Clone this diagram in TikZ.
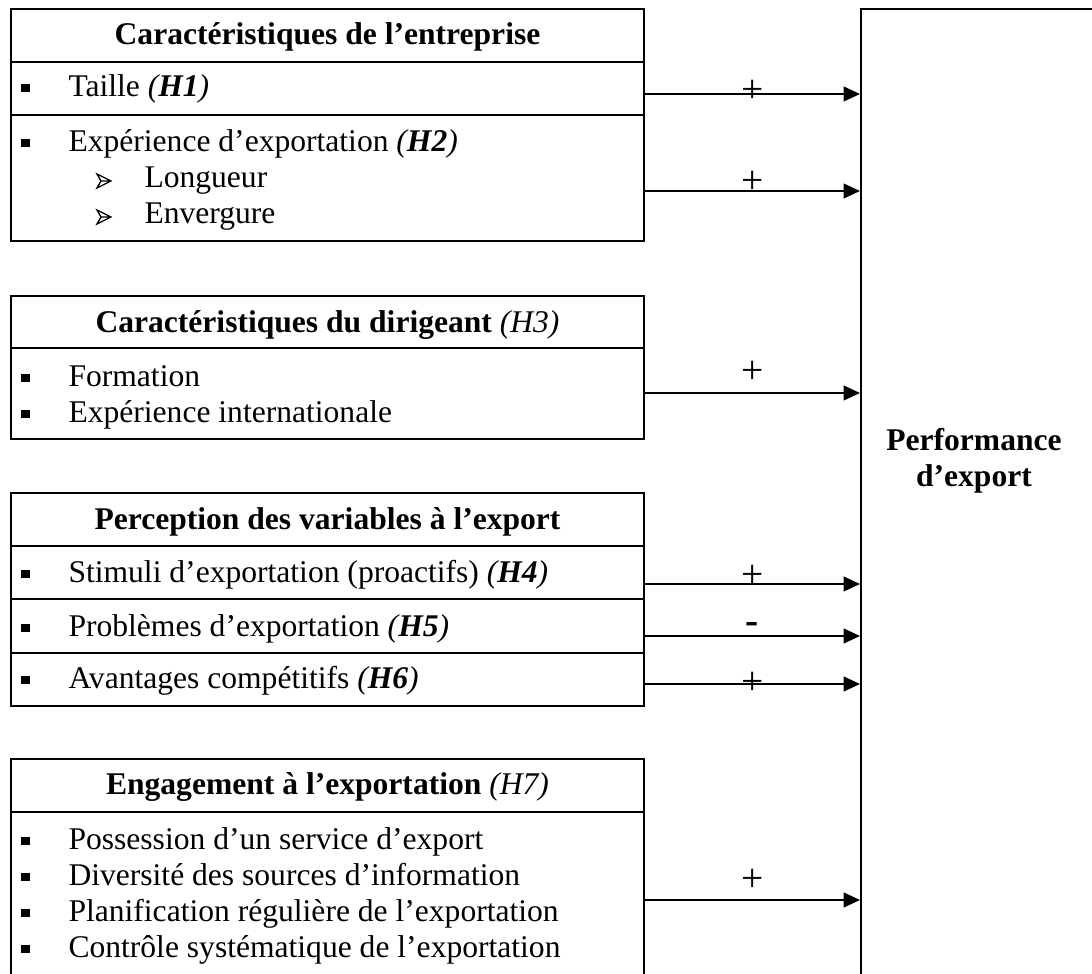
\documentclass[tikz,border=0pt]{standalone}
\usepackage{fontspec}
\setmainfont{Liberation Serif}
\usetikzlibrary{arrows.meta,calc}
\newcommand\rowbox[3]{\node[rowb, minimum height={(#3-#2)*0.38pt}] (#1) at (327.5,{(#2+#3)/2}) {};}
\newcommand\subbul[1]{\draw[line width=0.5pt, line join=miter] (97,{#1-7}) -- (111,#1) -- (97,{#1+7}) -- (101,#1) -- cycle (101,#1) -- (111,#1);}
\begin{document}
\begin{tikzpicture}[x=0.38pt,y=-0.38pt,
  font=\fontsize{12}{13.8}\selectfont,
  rowb/.style={draw, line width=0.76pt, minimum width={633*0.38pt}, inner sep=0pt},
  txt/.style={inner sep=0pt, anchor=base west},
  hdr/.style={inner sep=0pt, anchor=base, font=\fontsize{12}{13.8}\selectfont\bfseries},
  bul/.style={fill=black, draw=none, minimum width=3.1pt, minimum height=3.4pt, inner sep=0pt},
  arr/.style={line width=0.65pt, -{Triangle[length=6.2pt,width=5.6pt]}},
  lbl/.style={inner sep=0pt, midway, font=\fontsize{15}{15}\selectfont}]
\useasboundingbox (0,0) rectangle (1092,974);
\clip (0,0) rectangle (1092,974);
% right box
\node[draw, line width=0.76pt, inner sep=0pt, minimum width={289*0.38pt}, minimum height={991*0.38pt}] (perf) at (1005.5,504.5) {};
\node[inner sep=0pt, align=center, font=\fontsize{12}{13.8}\selectfont\bfseries] (perft) at (974,461) {Performance\\d’export};
% box 1
\rowbox{h1}{9}{62}
\rowbox{r11}{62}{115}
\rowbox{r12}{115}{241}
\node[hdr] (h1t) at (327.5,45) {Caractéristiques de l’entreprise};
\node[bul] (b11) at (25.5,88) {};
\node[txt] (t11) at (68,97) {Taille \textit{(\textbf{H1})}};
\node[bul] (b12) at (25.5,143) {};
\node[txt] (t12) at (68,152) {Expérience d’exportation \textit{(\textbf{H2})}};
\subbul{181}
\node[txt] (t13) at (144,188) {Longueur};
\subbul{217}
\node[txt] (t14) at (144,224) {Envergure};
% box 2
\rowbox{h2}{296}{348}
\rowbox{r21}{348}{439}
\node[hdr] (h2t) at (327.5,333) {Caractéristiques du dirigeant \textit{\mdseries(H3)}};
\node[bul] (b21) at (25.5,378) {};
\node[txt] (t21) at (68,387) {Formation};
\node[bul] (b22) at (25.5,414) {};
\node[txt] (t22) at (68,423) {Expérience internationale};
% box 3
\rowbox{h3}{493}{546}
\rowbox{r31}{546}{599}
\rowbox{r32}{599}{653}
\rowbox{r33}{653}{706}
\node[hdr] (h3t) at (327.5,530) {Perception des variables à l’export};
\node[bul] (b31) at (25.5,574) {};
\node[txt] (t31) at (68,583) {Stimuli d’exportation (proactifs) \textit{(\textbf{H4})}};
\node[bul] (b32) at (25.5,628) {};
\node[txt] (t32) at (68,637) {Problèmes d’exportation \textit{(\textbf{H5})}};
\node[bul] (b33) at (25.5,680) {};
\node[txt] (t33) at (68,689) {Avantages compétitifs \textit{(\textbf{H6})}};
% box 4
\rowbox{h4}{759}{812}
\rowbox{r41}{812}{1000}
\node[hdr] (h4t) at (327.5,795) {Engagement à l’exportation \textit{\mdseries(H7)}};
\node[bul] (b41) at (25.5,841) {};
\node[txt] (t41) at (68,850) {Possession d’un service d’export};
\node[bul] (b42) at (25.5,877) {};
\node[txt] (t42) at (68,886) {Diversité des sources d’information};
\node[bul] (b43) at (25.5,913) {};
\node[txt] (t43) at (68,922) {Planification régulière de l’exportation};
\node[bul] (b44) at (25.5,949) {};
\node[txt] (t44) at (68,958) {Contrôle systématique de l’exportation};
% arrows
\coordinate (a1) at (r11.east |- 0,94);
\coordinate (a2) at (r12.east |- 0,191);
\coordinate (a3) at (r21.east |- 0,393);
\coordinate (a4) at (r31.east |- 0,584);
\coordinate (a5) at (r32.east |- 0,636);
\coordinate (a6) at (r33.east |- 0,684);
\coordinate (a7) at (r41.east |- 0,900);
\draw[arr] (a1) -- (a1 -| perf.west) node[lbl, yshift={2.5*0.38pt}] (l1) {+};
\draw[arr] (a2) -- (a2 -| perf.west) node[lbl, yshift={9*0.38pt}] (l2) {+};
\draw[arr] (a3) -- (a3 -| perf.west) node[lbl, yshift={21*0.38pt}] (l3) {+};
\draw[arr] (a4) -- (a4 -| perf.west) node[lbl, yshift={8*0.38pt}] (l4) {+};
\draw[arr] (a5) -- (a5 -| perf.west) node[lbl, yshift={8*0.38pt}] (l5) {\textbf{-}};
\draw[arr] (a6) -- (a6 -| perf.west) node[lbl, yshift={1*0.38pt}] (l6) {+};
\draw[arr] (a7) -- (a7 -| perf.west) node[lbl, yshift={20*0.38pt}] (l7) {+};
\end{tikzpicture}
\end{document}
